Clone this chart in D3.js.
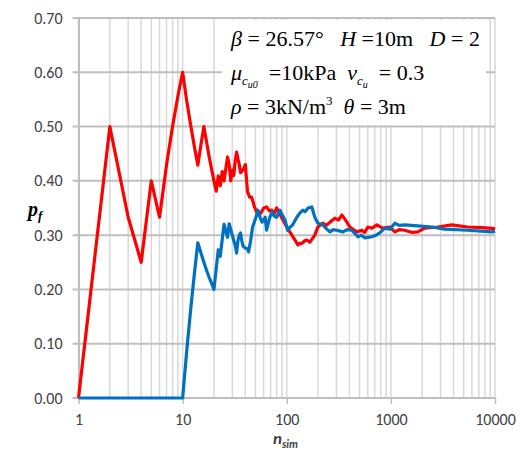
<!DOCTYPE html>
<html>
<head>
<meta charset="utf-8">
<script src="https://cdn.jsdelivr.net/npm/d3@7"></script>
<style>
  body { margin: 0; background: #fff; }
  svg { display: block; }
  .tick text { font-family: Carlito, Calibri, "Open Sans", sans-serif; font-size: 16px; fill: #404040; }
  .eq { font-family: "Liberation Serif", "Times New Roman", serif; font-size: 22px; fill: #000; }
</style>
</head>
<body>
<div id="chart"></div>
<script>
// running estimate of p_f as [n_sim, p_f]
var redSeries = [
  [1,0],[2,0.5],[3,0.333],[4,0.25],[5,0.4],[6,0.333],[7,0.429],[8,0.5],[9,0.556],[10,0.6],
  [11,0.545],[12,0.5],[13,0.462],[14,0.429],[15,0.467],[16,0.5],[17,0.471],[18,0.444],[19,0.421],[20,0.4],
  [21,0.381],[22,0.409],[23,0.391],[24,0.417],[25,0.4],[26,0.423],[27,0.444],[28,0.429],[29,0.4],[30,0.42],
  [31,0.41],[32,0.437],[33,0.453],[34,0.44],[35,0.43],[36,0.415],[38,0.42],[40,0.43],[42,0.38],[44,0.37],
  [46,0.37],[49,0.352],[53,0.337],[56,0.34],[60,0.35],[64,0.352],[68,0.345],[72,0.346],[76,0.34],[80,0.35],
  [86,0.338],[92,0.328],[100,0.315],[107,0.306],[112,0.3],[120,0.291],[128,0.282],[134,0.285],[140,0.285],
  [150,0.29],[156,0.291],[167,0.287],[186,0.3],[199,0.315],[222,0.322],[240,0.318],[260,0.324],[290,0.331],
  [315,0.328],[338,0.337],[360,0.33],[378,0.324],[404,0.315],[440,0.31],[471,0.306],[526,0.309],[560,0.305],
  [600,0.315],[660,0.313],[732,0.319],[836,0.313],[977,0.315],[1091,0.306],[1200,0.31],[1361,0.309],
  [1600,0.305],[1813,0.306],[2115,0.313],[2820,0.315],[3843,0.319],[5473,0.315],[7500,0.314],[10000,0.312]
];
var blueSeries = [
  [1,0],[10,0],[11,0.091],[12,0.167],[13,0.231],[14,0.286],[15,0.267],[16,0.25],[17,0.235],[18,0.222],
  [19,0.211],[20,0.2],[21,0.238],[22,0.273],[23,0.261],[24,0.292],[25,0.32],[26,0.308],[27,0.296],[28,0.321],
  [29,0.31],[30,0.3],[31,0.29],[32,0.281],[33,0.267],[34,0.29],[35,0.3],[36,0.304],[37,0.29],[38,0.28],
  [40,0.276],[42,0.275],[43,0.269],[45,0.29],[47,0.315],[50,0.33],[53,0.346],[56,0.33],[58,0.324],[62,0.333],
  [64,0.309],[68,0.33],[72,0.343],[76,0.335],[80,0.333],[86,0.346],[92,0.335],[96,0.328],[102,0.309],[108,0.315],
  [114,0.319],[125,0.333],[134,0.341],[143,0.346],[150,0.343],[160,0.35],[174,0.352],[186,0.333],[199,0.322],
  [222,0.319],[240,0.312],[260,0.306],[280,0.31],[303,0.309],[346,0.306],[380,0.31],[422,0.309],[482,0.297],
  [520,0.3],[562,0.295],[656,0.297],[720,0.3],[782,0.304],[874,0.313],[977,0.311],[1091,0.322],[1200,0.318],
  [1361,0.319],[1813,0.317],[2470,0.315],[3290,0.311],[5473,0.309],[9300,0.306],[10000,0.307]
];
var yTicks = [0, 0.1, 0.2, 0.3, 0.4, 0.5, 0.6, 0.7];
var xTicks = [1, 10, 100, 1000, 10000];

var width = 520, height = 454;
var margin = {top: 18, right: 25, bottom: 56, left: 78.5};
var sp = '\u00a0';

var svg = d3.select('#chart').append('svg')
  .attr('width', width)
  .attr('height', height);

var x = d3.scaleLog().domain([1, 10000]).range([margin.left, width - margin.right]);
var y = d3.scaleLinear().domain([0, 0.7]).range([height - margin.bottom, margin.top]);

// minor vertical grid (2..9 in every decade)
var minor = [];
xTicks.slice(0, -1).forEach(function(d){
  for (var k = 2; k <= 9; k++) minor.push(d * k);
});
svg.append('g').selectAll('line').data(minor.concat(xTicks)).enter().append('line')
  .attr('x1', function(d){ return x(d); })
  .attr('x2', function(d){ return x(d); })
  .attr('y1', y(0.7))
  .attr('y2', y(0))
  .style('stroke', '#d9d9d9')
  .style('stroke-width', '1.5px');

// horizontal grid
svg.append('g').selectAll('line').data(yTicks).enter().append('line')
  .attr('x1', margin.left - 6)
  .attr('x2', x(10000))
  .attr('y1', function(d){ return y(d); })
  .attr('y2', function(d){ return y(d); })
  .style('stroke', '#bfbfbf')
  .style('stroke-width', '2px');

// axes
var yAxis = d3.axisLeft(y).tickValues(yTicks).tickFormat(d3.format('.2f')).tickSize(0).tickPadding(16);
svg.append('g').attr('transform', 'translate(' + margin.left + ',0)').call(yAxis)
  .call(function(g){ g.select('.domain').style('stroke', '#bfbfbf').style('stroke-width', '2px'); });

var xAxis = d3.axisBottom(x).tickValues(xTicks).tickFormat(d3.format('d')).tickSize(6).tickPadding(10);
svg.append('g').attr('transform', 'translate(0,' + y(0) + ')').call(xAxis)
  .call(function(g){
    g.select('.domain').remove();
    g.selectAll('.tick line').style('stroke', '#bfbfbf').style('stroke-width', '1.5px');
  });

// annotation box
svg.append('rect')
  .attr('x', 222).attr('y', 20)
  .attr('width', 264).attr('height', 105)
  .style('fill', '#fff');

var eq = svg.append('g').attr('class', 'eq');
var l1 = eq.append('text').attr('x', 231).attr('y', 46);
l1.append('tspan').style('font-style', 'italic').text('β');
l1.append('tspan').text(sp + '=' + sp + '26.57°' + sp + sp + sp);
l1.append('tspan').style('font-style', 'italic').text('H');
l1.append('tspan').text(sp + '=10m' + sp + sp + sp);
l1.append('tspan').style('font-style', 'italic').text('D');
l1.append('tspan').text(sp + '=' + sp + '2');

var l2 = eq.append('text').attr('x', 231).attr('y', 80);
l2.append('tspan').style('font-style', 'italic').text('μ');
l2.append('tspan').attr('dy', 5).style('font-style', 'italic').style('font-size', '13px').text('c');
l2.append('tspan').attr('dy', 3).style('font-style', 'italic').style('font-size', '10px').text('u0');
l2.append('tspan').attr('dy', -8).text(sp + sp + '=10kPa' + sp + sp);
l2.append('tspan').style('font-style', 'italic').text('v');
l2.append('tspan').attr('dy', 5).style('font-style', 'italic').style('font-size', '13px').text('c');
l2.append('tspan').attr('dy', 3).style('font-style', 'italic').style('font-size', '10px').text('u');
l2.append('tspan').attr('dy', -8).text(sp + sp + '=' + sp + '0.3');

var l3 = eq.append('text').attr('x', 231).attr('y', 114);
l3.append('tspan').style('font-style', 'italic').text('ρ');
l3.append('tspan').text(sp + '=' + sp + '3kN/m');
l3.append('tspan').attr('dy', -9).style('font-size', '13px').text('3');
l3.append('tspan').attr('dy', 9).text(sp + sp);
l3.append('tspan').style('font-style', 'italic').text('θ');
l3.append('tspan').text(sp + '=' + sp + '3m');

// series
var line = d3.line()
  .x(function(d){ return x(d[0]); })
  .y(function(d){ return y(d[1]); });

svg.append('path').datum(redSeries)
  .attr('d', line)
  .style('fill', 'none')
  .style('stroke', '#ff0000')
  .style('stroke-width', '3.2px')
  .style('stroke-linejoin', 'round');

svg.append('path').datum(blueSeries)
  .attr('d', line)
  .style('fill', 'none')
  .style('stroke', '#0070c0')
  .style('stroke-width', '3.2px')
  .style('stroke-linejoin', 'round');

// axis titles
var yt = svg.append('text').attr('class', 'eq')
  .attr('x', 28).attr('y', 216)
  .style('font-size', '20px')
  .style('font-weight', 'bold').style('font-style', 'italic');
yt.append('tspan').text('p');
yt.append('tspan').attr('dy', 4).style('font-size', '13px').text('f');

var xt = svg.append('text')
  .attr('x', 273).attr('y', 444)
  .style('font-family', 'Carlito, Calibri, "Open Sans", sans-serif')
  .style('font-weight', 'bold').style('font-style', 'italic')
  .style('fill', '#404040').style('font-size', '17px');
xt.append('tspan').text('n');
xt.append('tspan').attr('dy', 4).style('font-size', '11px').text('sim');
</script>
</body>
</html>
